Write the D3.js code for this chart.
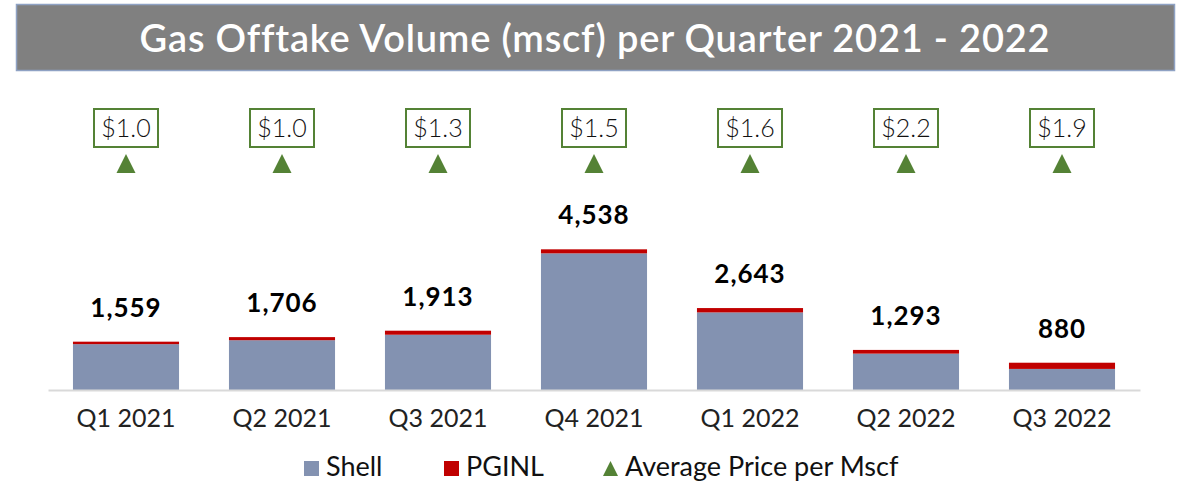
<!DOCTYPE html>
<html>
<head>
<meta charset="utf-8">
<script src="https://cdn.jsdelivr.net/npm/d3@7"></script>
<style>
  body { margin: 0; background: #fff; }
  svg { display: block; font-family: Lato, "Open Sans", sans-serif; }
</style>
</head>
<body>
<svg id="chart" width="1184" height="485"></svg>
<script>
// data
let quarters = ["Q1 2021", "Q2 2021", "Q3 2021", "Q4 2021", "Q1 2022", "Q2 2022", "Q3 2022"];
let totals = [1559, 1706, 1913, 4538, 2643, 1293, 880];
let pginl = [80, 100, 130, 130, 140, 120, 200];
let shell = totals.map((t, i) => t - pginl[i]);
let prices = ["$1.0", "$1.0", "$1.3", "$1.5", "$1.6", "$2.2", "$1.9"];

let colors = {shell: "#8392B1", pginl: "#C00000", price: "#548235"};

const svg = d3.select("#chart");

// title bar
svg.append("rect")
   .attr("x", 16.5).attr("y", 4.5)
   .attr("width", 1158).attr("height", 66)
   .attr("fill", "#808080")
   .attr("stroke", "#8FA2C4")
   .attr("stroke-width", 1.5);

svg.append("text")
   .attr("x", 595).attr("y", 52)
   .attr("text-anchor", "middle")
   .attr("fill", "#fff")
   .style("font-size", "38px")
   .style("font-weight", 600)
   .style("letter-spacing", "0.8px")
   .text("Gas Offtake Volume (mscf) per Quarter 2021 - 2022");

let x = d3.scaleBand().domain(quarters).range([48, 1140]).paddingInner(0.32).paddingOuter(0.16);
let y = d3.scaleLinear().domain([0, 6000]).range([390, 390 - 186]);

const rows = quarters.map((q, i) => ({q, shell: shell[i], pginl: pginl[i], total: totals[i], price: prices[i]}));
const stack = d3.stack().keys(["shell", "pginl"])(rows);

const gBars = svg.append("g");
gBars.selectAll("g")
     .data(stack)
     .join("g")
     .attr("fill", d => colors[d.key])
     .selectAll("rect")
     .data(d => d)
     .join("rect")
     .attr("x", d => x(d.data.q))
     .attr("width", x.bandwidth())
     .attr("y", d => y(d[1]))
     .attr("height", d => y(d[0]) - y(d[1]));

// axis
const xAxis = svg.append("g")
   .attr("transform", `translate(0,${y(0)})`)
   .call(d3.axisBottom(x).tickSize(0).tickPadding(19));
xAxis.select(".domain").attr("stroke", "#D9D9D9").attr("stroke-width", 2);
xAxis.selectAll("text")
     .attr("fill", "#222")
     .style("font-size", "25px")
     .style("font-family", "Lato, sans-serif");

// total labels
svg.append("g").selectAll("text")
   .data(rows)
   .join("text")
   .attr("x", d => x(d.q) + x.bandwidth() / 2)
   .attr("y", d => y(d.total) - 25)
   .attr("text-anchor", "middle")
   .attr("fill", "#000")
   .style("font-size", "26px")
   .style("font-weight", 700)
   .style("letter-spacing", "1px")
   .text(d => d3.format(",")(d.total));

// price boxes
const gPrice = svg.append("g").selectAll("g")
   .data(rows)
   .join("g")
   .attr("transform", d => `translate(${x(d.q) + x.bandwidth() / 2},0)`);

gPrice.append("rect")
      .attr("x", -32).attr("y", 109)
      .attr("width", 64).attr("height", 38)
      .attr("fill", "#fff")
      .attr("stroke", colors.price)
      .attr("stroke-width", 2);

gPrice.append("text")
      .attr("y", 137)
      .attr("text-anchor", "middle")
      .attr("fill", "#111")
      .style("font-size", "25px")
      .style("font-weight", 300)
      .text(d => d.price);

gPrice.append("path")
      .attr("d", "M0,154L9.5,173L-9.5,173Z")
      .attr("fill", colors.price);

// legend
const legend = svg.append("g").attr("transform", "translate(0,476)");
const items = [
  {label: "Shell", x: 304, color: colors.shell, shape: "square"},
  {label: "PGINL", x: 444, color: colors.pginl, shape: "square"},
  {label: "Average Price per Mscf", x: 603, color: colors.price, shape: "triangle"}
];
items.forEach(it => {
  if (it.shape === "square") {
    legend.append("rect").attr("x", it.x).attr("y", -15).attr("width", 15).attr("height", 15).attr("fill", it.color);
  } else {
    legend.append("path").attr("d", `M${it.x + 7.5},-15L${it.x + 15},0L${it.x},0Z`).attr("fill", it.color);
  }
  legend.append("text")
        .attr("x", it.x + 22)
        .attr("y", 0)
        .attr("fill", "#111")
        .style("font-size", "27px")
        .text(it.label);
});
</script>
</body>
</html>
